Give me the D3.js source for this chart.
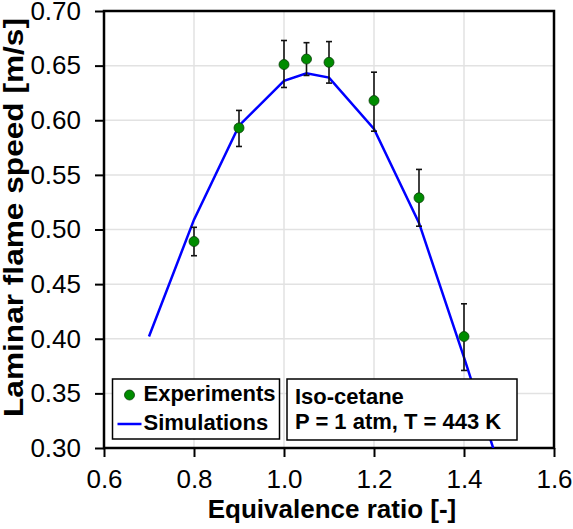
<!DOCTYPE html>
<html>
<head>
<meta charset="utf-8">
<script src="https://cdn.jsdelivr.net/npm/d3@7"></script>
<style>
  body { margin: 0; background: #fff; }
  text { font-family: Arial, "Liberation Sans", sans-serif; }
</style>
</head>
<body>
<div id="chart"></div>
<script>
// experiments
let expPhi   = [0.8, 0.9, 1.0, 1.05, 1.1, 1.2, 1.3, 1.4];
let expSpeed = [0.489, 0.593, 0.651, 0.656, 0.653, 0.618, 0.529, 0.402];
let expLow   = [0.476, 0.576, 0.630, 0.641, 0.634, 0.590, 0.503, 0.371];
let expHigh  = [0.502, 0.609, 0.673, 0.671, 0.672, 0.644, 0.555, 0.432];

// simulations
let simPhi   = [0.7, 0.8, 0.9, 1.0, 1.05, 1.1, 1.2, 1.3, 1.4, 1.5];
let simSpeed = [0.402, 0.509, 0.595, 0.636, 0.643, 0.639, 0.592, 0.506, 0.383, 0.255];

let xTicks = [0.6, 0.8, 1.0, 1.2, 1.4, 1.6];
let yTicks = [0.30, 0.35, 0.40, 0.45, 0.50, 0.55, 0.60, 0.65, 0.70];

var width  = 573;
var height = 529;
var margin = { top: 11, bottom: 81, left: 104, right: 19 };
var w = width - margin.left - margin.right;
var h = height - margin.top - margin.bottom;

let svg = d3.select('#chart')
    .append('svg')
        .attr('width', width)
        .attr('height', height)
    .append('g')
        .attr('transform', 'translate(' + margin.left + ',' + margin.top + ')');

let xScale = d3.scaleLinear().domain([0.6, 1.6]).range([0, w]);
let yScale = d3.scaleLinear().domain([0.30, 0.70]).range([h, 0]);

// grid
svg.append('g').selectAll('line')
    .data(xTicks.slice(1, -1))
    .enter().append('line')
    .attr('x1', d => xScale(d)).attr('x2', d => xScale(d))
    .attr('y1', 0).attr('y2', h)
    .attr('stroke', '#e2e2e2').attr('stroke-width', 1.5);
svg.append('g').selectAll('line')
    .data(yTicks.slice(1, -1))
    .enter().append('line')
    .attr('x1', 0).attr('x2', w)
    .attr('y1', d => yScale(d)).attr('y2', d => yScale(d))
    .attr('stroke', '#e2e2e2').attr('stroke-width', 1.5);

// axes
let xAxis = d3.axisBottom(xScale).tickValues(xTicks).tickFormat(d3.format('.1f'))
    .tickSizeInner(9).tickSizeOuter(0).tickPadding(6);
let gx = svg.append('g')
    .attr('transform', 'translate(0,' + h + ')')
    .call(xAxis);
let yAxis = d3.axisLeft(yScale).tickValues(yTicks).tickFormat(d3.format('.2f'))
    .tickSizeInner(9).tickSizeOuter(0).tickPadding(14);
let gy = svg.append('g').call(yAxis);

[gx, gy].forEach(function (g) {
    g.select('.domain').remove();
    g.selectAll('line').attr('stroke', '#000').attr('stroke-width', 2);
    g.selectAll('text').attr('font-size', '26px').attr('fill', '#000');
});
gx.selectAll('text').attr('dy', '0.95em');

// frame
svg.append('rect')
    .attr('x', 0).attr('y', 0).attr('width', w).attr('height', h)
    .attr('fill', 'none').attr('stroke', '#000').attr('stroke-width', 2.5);

// simulation line, clipped to plot area
svg.append('clipPath').attr('id', 'clip')
    .append('rect').attr('width', w).attr('height', h);

let line = d3.line()
    .x((d, i) => xScale(simPhi[i]))
    .y(d => yScale(d));
svg.append('path')
    .datum(simSpeed)
    .attr('clip-path', 'url(#clip)')
    .attr('fill', 'none')
    .attr('stroke', '#0000ff')
    .attr('stroke-width', 2.5)
    .attr('d', line);

// error bars
let eb = svg.append('g').selectAll('g')
    .data(expPhi)
    .enter().append('g')
    .attr('stroke', '#111').attr('stroke-width', 1.6);
eb.append('line')
    .attr('x1', d => xScale(d)).attr('x2', d => xScale(d))
    .attr('y1', (d, i) => yScale(expLow[i])).attr('y2', (d, i) => yScale(expHigh[i]));
eb.append('line')
    .attr('x1', d => xScale(d) - 3).attr('x2', d => xScale(d) + 3)
    .attr('y1', (d, i) => yScale(expLow[i])).attr('y2', (d, i) => yScale(expLow[i]));
eb.append('line')
    .attr('x1', d => xScale(d) - 3).attr('x2', d => xScale(d) + 3)
    .attr('y1', (d, i) => yScale(expHigh[i])).attr('y2', (d, i) => yScale(expHigh[i]));

// points
svg.append('g').selectAll('circle')
    .data(expPhi)
    .enter().append('circle')
    .attr('cx', d => xScale(d))
    .attr('cy', (d, i) => yScale(expSpeed[i]))
    .attr('r', 5)
    .attr('fill', '#008c00')
    .attr('stroke', '#0b3d0b')
    .attr('stroke-width', 0.8);

// x-axis label
svg.append('text')
    .attr('x', w / 2 + 3)
    .attr('y', h + 70)
    .attr('text-anchor', 'middle')
    .attr('font-size', '26px')
    .attr('font-weight', 'bold')
    .text('Equivalence ratio [-]');

// y-axis label (stretched along its baseline like the original)
svg.append('text')
    .attr('transform', 'rotate(-90)')
    .attr('x', -206.5)
    .attr('y', -81.5)
    .attr('text-anchor', 'middle')
    .attr('font-size', '27px')
    .attr('font-weight', 'bold')
    .attr('textLength', 399)
    .attr('lengthAdjust', 'spacingAndGlyphs')
    .text('Laminar flame speed [m/s]');

// legend box
let leg = svg.append('g').attr('transform', 'translate(' + (112.5 - margin.left) + ',' + (379 - margin.top) + ')');
leg.append('rect')
    .attr('width', 167).attr('height', 60)
    .attr('fill', '#fff').attr('stroke', '#000').attr('stroke-width', 1.5);
leg.append('circle')
    .attr('cx', 17).attr('cy', 16).attr('r', 5)
    .attr('fill', '#008c00').attr('stroke', '#0b3d0b').attr('stroke-width', 0.8);
leg.append('line')
    .attr('x1', 5).attr('x2', 29).attr('y1', 45).attr('y2', 45)
    .attr('stroke', '#0000ff').attr('stroke-width', 2.5);
leg.append('text').attr('x', 31).attr('y', 22)
    .attr('font-size', '22px').attr('font-weight', 'bold').text('Experiments');
leg.append('text').attr('x', 31).attr('y', 51)
    .attr('font-size', '22px').attr('font-weight', 'bold').text('Simulations');

// conditions box
let cond = svg.append('g').attr('transform', 'translate(' + (287 - margin.left) + ',' + (379 - margin.top) + ')');
cond.append('rect')
    .attr('width', 230).attr('height', 61)
    .attr('fill', '#fff').attr('stroke', '#000').attr('stroke-width', 1.5);
cond.append('text').attr('x', 8).attr('y', 25)
    .attr('font-size', '22px').attr('font-weight', 'bold').text('Iso-cetane');
cond.append('text').attr('x', 8).attr('y', 50)
    .attr('font-size', '22px').attr('font-weight', 'bold').text('P = 1 atm, T = 443 K');
</script>
</body>
</html>
